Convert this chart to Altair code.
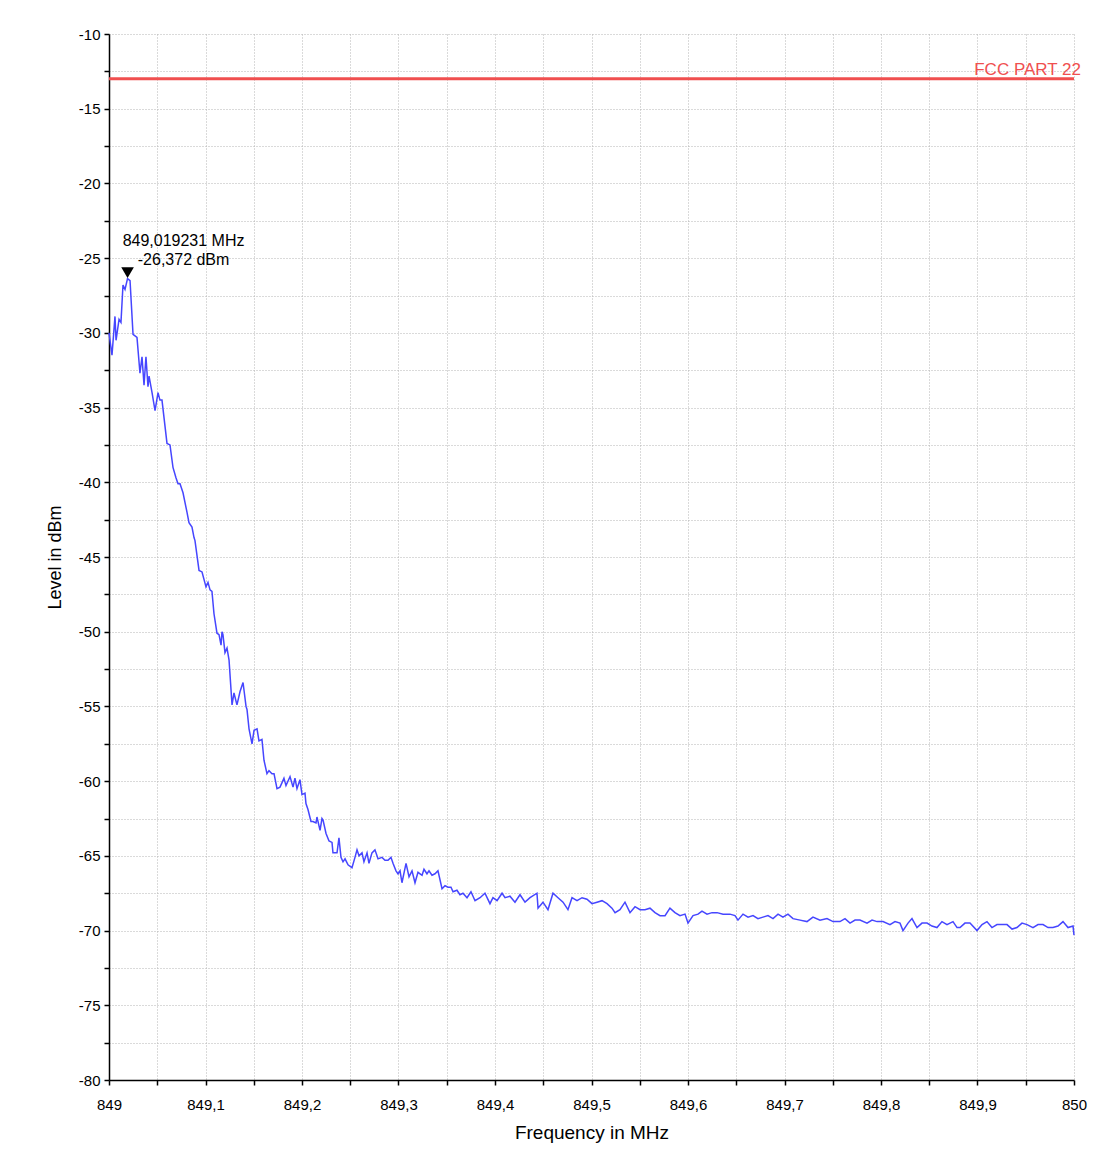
import altair as alt
import pandas as pd

# ---- data ----
FREQ_MHZ = [
    849.0000, 849.0031, 849.0062, 849.0073, 849.0104, 849.0124, 849.0145, 849.0166, 849.0192, 849.0218,
    849.0249, 849.0290, 849.0321, 849.0342, 849.0363, 849.0383, 849.0404, 849.0415, 849.0446, 849.0477,
    849.0508, 849.0528, 849.0549, 849.0601, 849.0632, 849.0663, 849.0694, 849.0715, 849.0736, 849.0767,
    849.0808, 849.0829, 849.0860, 849.0881, 849.0891, 849.0933, 849.0964, 849.1005, 849.1026, 849.1047,
    849.1067, 849.1088, 849.1119, 849.1140, 849.1161, 849.1171, 849.1181, 849.1202, 849.1223, 849.1244,
    849.1275, 849.1295, 849.1326, 849.1358, 849.1389, 849.1420, 849.1430, 849.1451, 849.1482, 849.1503,
    849.1534, 849.1554, 849.1585, 849.1606, 849.1637, 849.1658, 849.1689, 849.1710, 849.1741, 849.1772,
    849.1793, 849.1813, 849.1834, 849.1876, 849.1907, 849.1927, 849.1948, 849.1979, 849.2000, 849.2031,
    849.2041, 849.2062, 849.2093, 849.2114, 849.2145, 849.2155, 849.2187, 849.2207, 849.2218, 849.2249,
    849.2280, 849.2311, 849.2321, 849.2363, 849.2383, 849.2404, 849.2425, 849.2446, 849.2477, 849.2518,
    849.2549, 849.2570, 849.2591, 849.2622, 849.2642, 849.2674, 849.2694, 849.2725, 849.2756, 849.2788,
    849.2829, 849.2860, 849.2891, 849.2922, 849.2943, 849.2974, 849.2995, 849.3016, 849.3036, 849.3078,
    849.3109, 849.3140, 849.3171, 849.3202, 849.3244, 849.3264, 849.3295, 849.3316, 849.3347, 849.3378,
    849.3409, 849.3451, 849.3482, 849.3513, 849.3544, 849.3565, 849.3606, 849.3637, 849.3668, 849.3710,
    849.3751, 849.3793, 849.3845, 849.3896, 849.3948, 849.3979, 849.4021, 849.4073, 849.4104, 849.4155,
    849.4207, 849.4259, 849.4311, 849.4363, 849.4435, 849.4446, 849.4497, 849.4549, 849.4601, 849.4653,
    849.4705, 849.4756, 849.4798, 849.4850, 849.4902, 849.4953, 849.5005, 849.5057, 849.5109, 849.5161,
    849.5212, 849.5244, 849.5295, 849.5347, 849.5399, 849.5451, 849.5503, 849.5554, 849.5606, 849.5658,
    849.5710, 849.5762, 849.5813, 849.5865, 849.5917, 849.5969, 849.6000, 849.6052, 849.6104, 849.6145,
    849.6197, 849.6249, 849.6301, 849.6363, 849.6435, 849.6487, 849.6518, 849.6570, 849.6622, 849.6674,
    849.6725, 849.6777, 849.6829, 849.6881, 849.6933, 849.6984, 849.7036, 849.7088, 849.7161, 849.7233,
    849.7295, 849.7368, 849.7440, 849.7503, 849.7575, 849.7627, 849.7679, 849.7731, 849.7782, 849.7855,
    849.7907, 849.7959, 849.8021, 849.8093, 849.8145, 849.8197, 849.8228, 849.8280, 849.8321, 849.8373,
    849.8425, 849.8477, 849.8528, 849.8580, 849.8632, 849.8684, 849.8746, 849.8788, 849.8819, 849.8870,
    849.8922, 849.8995, 849.9047, 849.9098, 849.9150, 849.9202, 849.9254, 849.9306, 849.9358, 849.9409,
    849.9461, 849.9513, 849.9575, 849.9627, 849.9679, 849.9731, 849.9782, 849.9834, 849.9886, 849.9938,
    849.9990, 850.0000,
]

LEVEL_DBM = [
    -30.0, -31.5, -28.9, -30.5, -29.1, -29.3, -26.8, -27.1, -26.372, -26.5,
    -30.1, -30.3, -32.7, -31.6, -33.5, -31.6, -33.6, -32.9, -34.0, -35.2,
    -34.0, -34.5, -34.5, -37.4, -37.5, -39.0, -39.7, -40.1, -40.1, -40.7,
    -42.0, -42.7, -43.0, -43.7, -43.9, -45.9, -46.0, -47.0, -46.7, -47.2,
    -47.3, -48.8, -50.1, -50.2, -50.9, -50.0, -50.2, -51.4, -51.1, -51.9,
    -54.9, -54.1, -54.9, -54.0, -53.4, -55.0, -55.2, -56.5, -57.5, -56.6,
    -56.5, -57.3, -57.2, -58.6, -59.5, -59.3, -59.5, -59.5, -60.5, -60.4,
    -60.1, -59.8, -60.3, -59.7, -60.4, -59.8, -60.5, -59.9, -60.9, -60.8,
    -61.5, -61.9, -62.7, -62.7, -62.8, -62.4, -63.3, -62.5, -62.6, -63.5,
    -64.0, -64.1, -64.8, -64.8, -63.8, -65.1, -65.4, -65.2, -65.6, -65.8,
    -65.1, -64.6, -65.0, -64.8, -65.4, -64.8, -65.5, -64.8, -64.6, -65.2,
    -65.1, -65.3, -65.3, -65.1, -65.5, -66.0, -66.2, -66.0, -66.8, -65.5,
    -66.4, -66.0, -66.8, -66.1, -66.3, -65.9, -66.2, -66.0, -66.3, -66.2,
    -66.0, -67.2, -67.0, -67.1, -67.1, -67.4, -67.3, -67.6, -67.5, -67.8,
    -67.4, -68.0, -67.8, -67.5, -68.2, -67.8, -68.0, -67.5, -67.8, -67.7,
    -68.1, -67.6, -68.1, -67.8, -67.5, -68.5, -68.1, -68.6, -67.5, -67.8,
    -68.1, -68.6, -67.8, -68.0, -67.8, -67.9, -68.2, -68.1, -68.0, -68.2,
    -68.5, -68.8, -68.6, -68.1, -68.8, -68.4, -68.6, -68.6, -68.5, -68.8,
    -69.0, -69.0, -68.5, -68.8, -69.0, -68.9, -69.5, -69.0, -68.9, -68.7,
    -68.9, -68.8, -68.8, -68.9, -68.9, -69.0, -69.3, -68.9, -69.1, -69.0,
    -69.2, -69.1, -69.0, -69.2, -68.9, -69.1, -68.9, -69.2, -69.3, -69.4,
    -69.1, -69.3, -69.2, -69.4, -69.4, -69.2, -69.5, -69.3, -69.3, -69.5,
    -69.3, -69.4, -69.4, -69.6, -69.4, -69.5, -70.0, -69.5, -69.2, -69.8,
    -69.5, -69.5, -69.7, -69.8, -69.4, -69.6, -69.4, -69.8, -69.8, -69.5,
    -69.5, -70.0, -69.6, -69.4, -69.8, -69.6, -69.6, -69.6, -69.9, -69.8,
    -69.5, -69.6, -69.8, -69.6, -69.6, -69.8, -69.8, -69.7, -69.4, -69.8,
    -69.7, -70.3,
]

LIMIT_DBM = -13
LIMIT_LABEL = "FCC PART  22"
PEAK_FREQ = 849.019231
PEAK_LEVEL = -26.372

X_TICKS = [round(849 + 0.05 * i, 2) for i in range(21)]
Y_TICKS = [-80 + 2.5 * i for i in range(29)]

FONT = "Liberation Sans"

trace = pd.DataFrame({"f": FREQ_MHZ, "v": LEVEL_DBM})
limit = pd.DataFrame({"f": [850.0], "v": [LIMIT_DBM], "t": [LIMIT_LABEL]})
peak_text = (f"{PEAK_FREQ:.6f} MHz".replace(".", ",") + "\n" +
             f"{PEAK_LEVEL:.3f} dBm".replace(".", ","))
peak = pd.DataFrame({"f": [PEAK_FREQ], "v": [PEAK_LEVEL], "t": [peak_text]})

xscale = alt.Scale(domain=[849, 850], nice=False, zero=False)
yscale = alt.Scale(domain=[-80, -10], nice=False, zero=False)

GRID = dict(grid=True, gridColor="#b4b4b4", gridDash=[1, 2], gridWidth=1)

xaxis = alt.Axis(
    values=X_TICKS,
    title="Frequency in MHz",
    labelExpr="abs(datum.value*10 - round(datum.value*10)) < 0.001 ? "
              "(abs(datum.value - round(datum.value)) < 0.001 ? '' + round(datum.value) : "
              "replace(format(datum.value, '.1f'), '.', ',')) : ''",
    domainColor="black", domainWidth=1.5, tickColor="black", tickWidth=1.5, tickSize=5,
    labelFont=FONT, labelFontSize=15, labelColor="black", labelPadding=12, labelFlush=False,
    titleFont=FONT, titleFontSize=19, titleFontWeight="normal", titleColor="black", titlePadding=11,
    **GRID,
)
yaxis = alt.Axis(
    values=Y_TICKS,
    title="Level in dBm",
    labelExpr="datum.value % 5 == 0 ? '' + datum.value : ''",
    domainColor="black", domainWidth=1.5, tickColor="black", tickWidth=1.5, tickSize=5,
    labelFont=FONT, labelFontSize=15, labelColor="black", labelPadding=4, labelFlush=False,
    titleFont=FONT, titleFontSize=18, titleFontWeight="normal", titleColor="black", titlePadding=14,
    **GRID,
)

X = alt.X("f:Q", scale=xscale, axis=xaxis)
Y = alt.Y("v:Q", scale=yscale, axis=yaxis)

line = alt.Chart(trace).mark_line(color="#4646ff", strokeWidth=1.5).encode(x=X, y=Y)

rule = alt.Chart(limit).mark_rule(color="#f04f4f", strokeWidth=3).encode(y=Y)

rule_text = alt.Chart(limit).mark_text(
    align="right", baseline="bottom", color="#f04f4f", font=FONT, fontSize=17, dx=7, dy=0
).encode(x=X, y=Y, text="t:N")

marker = alt.Chart(peak).mark_point(
    shape="triangle-down", filled=True, color="black", opacity=1, size=160, yOffset=-6
).encode(x=X, y=Y)

marker_text = alt.Chart(peak).mark_text(
    align="center", baseline="bottom", color="black", font=FONT, fontSize=16,
    lineBreak="\n", lineHeight=19, dx=56, dy=-30
).encode(x=X, y=Y, text="t:N")

chart = alt.layer(line, rule, rule_text, marker, marker_text).properties(
    width=965, height=1046,
    autosize=alt.AutoSizeParams(type="none"),
    padding={"left": 101, "top": 26, "right": 23, "bottom": 65},
    background="white",
).configure_view(stroke=None)

chart.save("out.html", embed_options={"renderer": "svg", "actions": False})
